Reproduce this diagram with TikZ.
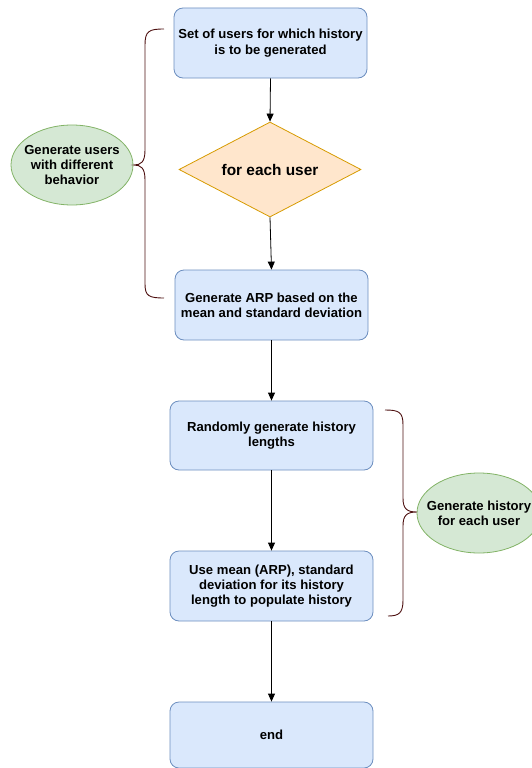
\documentclass[tikz,border=0pt]{standalone}
\usepackage{fontspec}
\setmainfont{Liberation Sans}
\usetikzlibrary{shapes.geometric,arrows.meta}
\definecolor{bfill}{HTML}{DAE8FC}
\definecolor{bdraw}{HTML}{6C8EBF}
\definecolor{ofill}{HTML}{FFE6CC}
\definecolor{odraw}{HTML}{D79B00}
\definecolor{gfill}{HTML}{D5E8D4}
\definecolor{gdraw}{HTML}{82B366}
\definecolor{brc}{HTML}{4D1010}
\tikzset{
  box/.style={draw=bdraw,fill=bfill,rounded corners=9pt,line width=0.8pt,font=\bfseries\fontsize{13.1}{15.3}\selectfont,align=center,inner sep=0pt},
  ell/.style={draw=gdraw,fill=gfill,ellipse,line width=0.8pt,font=\bfseries\fontsize{13.1}{15.3}\selectfont,align=center,inner sep=-14pt},
  dia/.style={draw=odraw,fill=ofill,diamond,shape aspect=1.9,line width=0.8pt,font=\bfseries\fontsize{15.4}{18}\selectfont,inner sep=0pt},
  arr/.style={-{Triangle[length=8pt,width=7pt]},line width=0.8pt,black},
  brace/.style={draw=brc,line width=0.9pt}
}
\begin{document}
\begin{tikzpicture}[x=1pt,y=-1pt]
\useasboundingbox (0,0) rectangle (531,768);
\node[box,minimum width=193pt,minimum height=70pt] (b1) at (270.5,43) {Set of users for which history\\is to be generated};
\node[dia,minimum width=182pt,minimum height=95pt] (d1) at (270,169.5) {for each user};
\node[box,minimum width=193pt,minimum height=70pt] (b2) at (271.5,305) {Generate ARP based on the\\mean and standard deviation};
\node[box,minimum width=203pt,minimum height=69pt] (b3) at (271.5,435.5) {Randomly generate history\\lengths};
\node[box,minimum width=203pt,minimum height=70pt] (b4) at (271.5,586) {Use mean (ARP), standard\\deviation for its history\\length to populate history};
\node[box,minimum width=203pt,minimum height=66pt] (b5) at (271.5,735) {end};
\node[ell,minimum width=122pt,minimum height=80pt] (e1) at (72,165) {Generate users\\with different\\behavior};
\node[ell,minimum width=124pt,minimum height=80pt] (e2) at (479,513) {Generate history\\for each user};
\draw[arr] (b1.south) -- (d1.north);
\draw[arr] (d1.south) -- (b2.north);
\draw[arr] (b2.south) -- (b3.north);
\draw[arr] (b3.south) -- (b4.north);
\draw[arr] (b4.south) -- (b5.north);
\draw[brace] (164,29) .. controls (149,29) and (145,31) .. (145,45) -- (145,150) .. controls (145,162) and (141,165) .. (134,165) .. controls (141,165) and (145,168) .. (145,180) -- (145,284) .. controls (145,296) and (149,298) .. (164,298);
\draw[brace] (385,410) .. controls (399,410) and (403,412) .. (403,425) -- (403,498) .. controls (403,509) and (407,512) .. (417,512) .. controls (407,512) and (403,515) .. (403,526) -- (403,600) .. controls (403,613) and (399,616) .. (388,616);
\end{tikzpicture}
\end{document}
